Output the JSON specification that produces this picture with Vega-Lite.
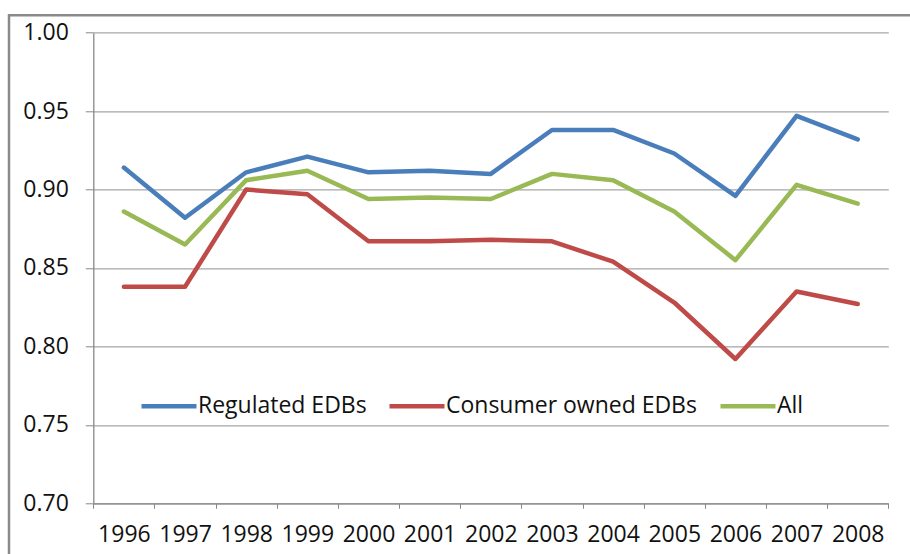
{
  "$schema": "https://vega.github.io/schema/vega-lite/v6.json",
  "width": 910,
  "height": 560,
  "autosize": "none",
  "padding": {"left": 9, "top": 15.3, "right": 0, "bottom": 0},
  "background": "white",
  "config": {
    "view": {"stroke": "#8a8a8a", "strokeWidth": 2.5},
    "font": "Open Sans"
  },
  "data": {
    "values": [
      {"year": "1996", "series": "Regulated EDBs", "value": 0.914},
      {"year": "1997", "series": "Regulated EDBs", "value": 0.882},
      {"year": "1998", "series": "Regulated EDBs", "value": 0.911},
      {"year": "1999", "series": "Regulated EDBs", "value": 0.921},
      {"year": "2000", "series": "Regulated EDBs", "value": 0.911},
      {"year": "2001", "series": "Regulated EDBs", "value": 0.912},
      {"year": "2002", "series": "Regulated EDBs", "value": 0.910},
      {"year": "2003", "series": "Regulated EDBs", "value": 0.938},
      {"year": "2004", "series": "Regulated EDBs", "value": 0.938},
      {"year": "2005", "series": "Regulated EDBs", "value": 0.923},
      {"year": "2006", "series": "Regulated EDBs", "value": 0.896},
      {"year": "2007", "series": "Regulated EDBs", "value": 0.947},
      {"year": "2008", "series": "Regulated EDBs", "value": 0.932},
      {"year": "1996", "series": "Consumer owned EDBs", "value": 0.838},
      {"year": "1997", "series": "Consumer owned EDBs", "value": 0.838},
      {"year": "1998", "series": "Consumer owned EDBs", "value": 0.900},
      {"year": "1999", "series": "Consumer owned EDBs", "value": 0.897},
      {"year": "2000", "series": "Consumer owned EDBs", "value": 0.867},
      {"year": "2001", "series": "Consumer owned EDBs", "value": 0.867},
      {"year": "2002", "series": "Consumer owned EDBs", "value": 0.868},
      {"year": "2003", "series": "Consumer owned EDBs", "value": 0.867},
      {"year": "2004", "series": "Consumer owned EDBs", "value": 0.854},
      {"year": "2005", "series": "Consumer owned EDBs", "value": 0.828},
      {"year": "2006", "series": "Consumer owned EDBs", "value": 0.792},
      {"year": "2007", "series": "Consumer owned EDBs", "value": 0.835},
      {"year": "2008", "series": "Consumer owned EDBs", "value": 0.827},
      {"year": "1996", "series": "All", "value": 0.886},
      {"year": "1997", "series": "All", "value": 0.865},
      {"year": "1998", "series": "All", "value": 0.906},
      {"year": "1999", "series": "All", "value": 0.912},
      {"year": "2000", "series": "All", "value": 0.894},
      {"year": "2001", "series": "All", "value": 0.895},
      {"year": "2002", "series": "All", "value": 0.894},
      {"year": "2003", "series": "All", "value": 0.910},
      {"year": "2004", "series": "All", "value": 0.906},
      {"year": "2005", "series": "All", "value": 0.886},
      {"year": "2006", "series": "All", "value": 0.855},
      {"year": "2007", "series": "All", "value": 0.903},
      {"year": "2008", "series": "All", "value": 0.891}
    ]
  },
  "mark": {"type": "line", "strokeWidth": 4.5, "strokeJoin": "round", "strokeCap": "round"},
  "encoding": {
    "x": {
      "field": "year",
      "type": "ordinal",
      "bandPosition": 0.5,
      "scale": {"type": "band", "range": [84.3, 879.3], "paddingInner": 0, "paddingOuter": 0},
      "axis": {
        "title": null,
        "offset": -72,
        "labelAngle": 0,
        "tickBand": "extent",
        "tickSize": 5,
        "tickColor": "#888888",
        "domainColor": "#888888",
        "domainWidth": 1.3,
        "labelPadding": 15,
        "labelFontSize": 23,
        "labelColor": "#111111",
        "grid": false
      }
    },
    "y": {
      "field": "value",
      "type": "quantitative",
      "scale": {"domain": [0.7, 1.0], "range": [488, 17.4], "nice": false, "zero": false},
      "axis": {
        "title": null,
        "offset": -84.3,
        "values": [0.7, 0.75, 0.8, 0.85, 0.9, 0.95, 1.0],
        "format": ".2f",
        "tickSize": 8,
        "tickColor": "#888888",
        "domainColor": "#888888",
        "domainWidth": 1.3,
        "labelPadding": 17,
        "labelFontSize": 23,
        "labelColor": "#111111",
        "grid": true,
        "gridColor": "#a6a6a6",
        "gridWidth": 1.3
      }
    },
    "color": {
      "field": "series",
      "type": "nominal",
      "scale": {
        "domain": ["Regulated EDBs", "Consumer owned EDBs", "All"],
        "range": ["#4a7ebb", "#be4b48", "#98b954"]
      },
      "legend": {
        "title": null,
        "orient": "none",
        "legendX": 130,
        "legendY": 361,
        "direction": "horizontal",
        "symbolType": "stroke",
        "symbolSize": 3025,
        "symbolStrokeWidth": 4.5,
        "labelFontSize": 23,
        "labelColor": "#111111",
        "labelOffset": -1,
        "columnPadding": 13,
        "labelLimit": 400
      }
    }
  }
}
